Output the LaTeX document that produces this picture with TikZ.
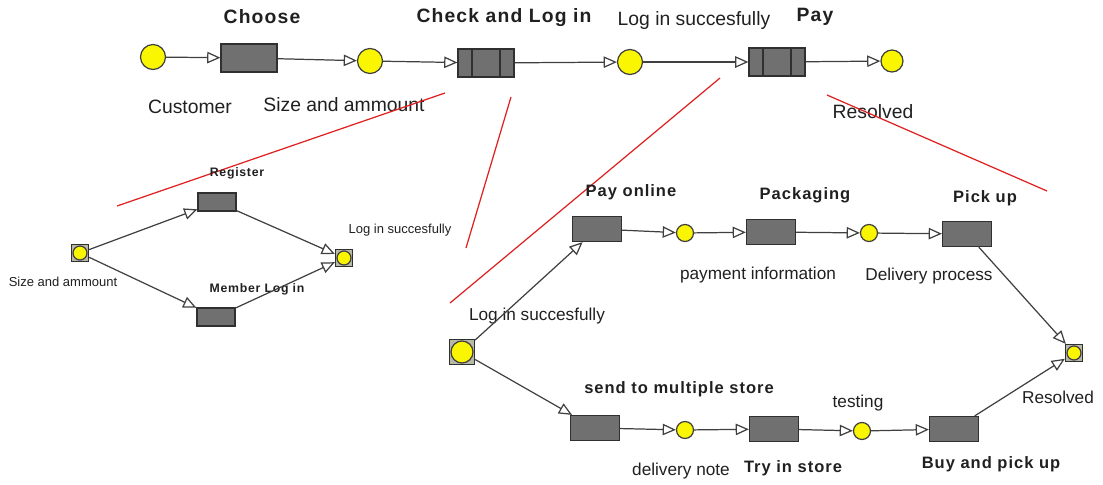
\documentclass[tikz,border=0pt]{standalone}
\usepackage{fontspec}
\setmainfont{Liberation Sans}
\newfontfamily\widefont[LetterSpace=6]{Liberation Sans}
\usetikzlibrary{arrows.meta}
\definecolor{placefill}{HTML}{FAF500}
\definecolor{boxfill}{HTML}{707070}
\definecolor{boxedge}{HTML}{303030}
\definecolor{linegray}{HTML}{404040}
\definecolor{portfill}{HTML}{B8B8A8}
\definecolor{textgray}{HTML}{202020}
\definecolor{cutred}{HTML}{E02020}

\begin{document}
\begin{tikzpicture}[x=0.02cm, y=-0.02cm,
		-{Triangle[fill=white,length=7.5pt,width=6.5pt]}, line width=0.7pt, draw=linegray,
		place/.style ={circle, draw=linegray, fill=placefill, minimum size=0.5cm, inner sep=0pt},
		smallplace/.style ={place, minimum size=0.34cm},
		trans/.style ={rectangle, draw=boxedge, fill=boxfill, minimum width=1.12cm, minimum height=0.56cm, inner sep=0pt},
		bars/.style ={trans, path picture={
			\draw[-, boxedge] ([xshift=0.28cm]path picture bounding box.north west) -- ([xshift=0.28cm]path picture bounding box.south west);
			\draw[-, boxedge] ([xshift=-0.28cm]path picture bounding box.north east) -- ([xshift=-0.28cm]path picture bounding box.south east);}},
		subtrans/.style ={trans, minimum width=0.98cm, minimum height=0.5cm},
		tinytrans/.style ={trans, minimum width=0.76cm, minimum height=0.36cm},
		port/.style ={rectangle, draw=boxedge, fill=portfill, minimum size=0.34cm, inner sep=0pt},
		title/.style ={text=textgray, font=\widefont\bfseries\fontsize{11}{13}\selectfont},
		subtitle/.style ={text=textgray, font=\widefont\bfseries\fontsize{9.4}{11}\selectfont},
		tinytitle/.style ={text=textgray, font=\widefont\bfseries\fontsize{7}{8}\selectfont},
		lbl/.style ={text=textgray, font=\fontsize{11}{13}\selectfont},
		sublbl/.style ={text=textgray, font=\fontsize{9.8}{12}\selectfont},
		tinylbl/.style ={text=textgray, font=\fontsize{7.4}{9}\selectfont},
		cut/.style ={-, draw=cutred, line width=0.7pt}]
		\useasboundingbox (0,0) rectangle (1103,484);
		% main process
		\node[place] (cust) at (153,57) {};
		\node[trans] (choose) at (249,58) {};
		\node[place] (size) at (370,61) {};
		\node[bars] (check) at (486,63) {};
		\node[place] (login) at (630,62) {};
		\node[bars] (pay) at (777,62) {};
		\node[place, minimum size=0.44cm] (done) at (892,61) {};
		\node[title] (tchoose) at (262,17) {Choose};
		\node[title] (tcheck) at (504,18) {Check and Log in};
		\node[lbl] (tlogin) at (694,21) {Log in succesfully};
		\node[title] (tpay) at (815,17) {Pay};
		\node[lbl] (tcust) at (190,107) {Customer};
		\node[lbl] (tsize) at (344,105) {Size and ammount};
		\node[lbl] (tdone) at (873,112) {Resolved};
		\path (cust) edge (choose); % customer to choose
		\path (choose) edge (size); % choose to size
		\path (size) edge (check); % size to check
		\path (check) edge (login); % check to login
		\path (login) edge (pay); % login to pay
		\path (pay) edge (done); % pay to resolved
		% red zoom lines
		\coordinate (a1) at (445,93); \coordinate (a2) at (117,206);
		\coordinate (b1) at (511,97); \coordinate (b2) at (466,248);
		\coordinate (c1) at (720,78); \coordinate (c2) at (450,303);
		\coordinate (d1) at (827,95); \coordinate (d2) at (1047,191);
		\draw[cut] (a1) -- (a2);
		\draw[cut] (b1) -- (b2);
		\draw[cut] (c1) -- (c2);
		\draw[cut] (d1) -- (d2);
		% check and log in subnet
		\node[port] (lin) at (80,253) {};
		\node[place, minimum size=0.28cm] at (lin) {};
		\node[tinytrans] (reg) at (217,202) {};
		\node[tinytrans] (member) at (216,317) {};
		\node[port] (lout) at (344,258) {};
		\node[place, minimum size=0.28cm] at (lout) {};
		\node[tinytitle] (treg) at (237,173) {Register};
		\node[tinytitle] (tmember) at (257,289) {Member Log in};
		\node[tinylbl] (tlin) at (63,282) {Size and ammount};
		\node[tinylbl] (tlout) at (400,230) {Log in succesfully};
		\path (lin) edge (reg); % in to register
		\path (lin) edge (member); % in to member
		\path (reg) edge (lout); % register to out
		\path (member) edge (lout); % member to out
		% pay subnet
		\node[port, minimum size=0.5cm] (pin) at (462,352) {};
		\node[place, minimum size=0.44cm] at (pin) {};
		\node[subtrans] (online) at (597,229) {};
		\node[smallplace] (payinfo) at (685,233) {};
		\node[subtrans] (pack) at (771,232) {};
		\node[smallplace] (deliv) at (869,233) {};
		\node[subtrans] (pick) at (967,234) {};
		\node[subtrans] (send) at (595,428) {};
		\node[smallplace] (note) at (685,430) {};
		\node[subtrans] (try) at (774,429) {};
		\node[smallplace] (test) at (862,431) {};
		\node[subtrans] (buy) at (954,429) {};
		\node[port] (pout) at (1074,353) {};
		\node[place, minimum size=0.28cm] at (pout) {};
		\node[subtitle] (tonline) at (631,192) {Pay online};
		\node[subtitle] (tpack) at (805,195) {Packaging};
		\node[subtitle] (tpick) at (985,198) {Pick up};
		\node[sublbl] (tpayinfo) at (758,275) {payment information};
		\node[sublbl] (tdeliv) at (929,276) {Delivery process};
		\node[sublbl] (tpin) at (537,316) {Log in succesfully};
		\node[subtitle] (tsend) at (679,389) {send to multiple store};
		\node[sublbl] (ttest) at (858,403) {testing};
		\node[sublbl] (tpout) at (1058,397) {Resolved};
		\node[sublbl] (tnote) at (681,471) {delivery note};
		\node[subtitle] (ttry) at (793,468) {Try in store};
		\node[subtitle] (tbuy) at (991,464) {Buy and pick up};
		\path (pin) edge (online); % in to pay online
		\path (online) edge (payinfo); % pay online to info
		\path (payinfo) edge (pack); % info to packaging
		\path (pack) edge (deliv); % packaging to delivery
		\path (deliv) edge (pick); % delivery to pick up
		\path (pick) edge (pout); % pick up to out
		\path (pin) edge (send); % in to send
		\path (send) edge (note); % send to note
		\path (note) edge (try); % note to try
		\path (try) edge (test); % try to testing
		\path (test) edge (buy); % testing to buy
		\path (buy) edge (pout); % buy to out
\end{tikzpicture}
\end{document}
